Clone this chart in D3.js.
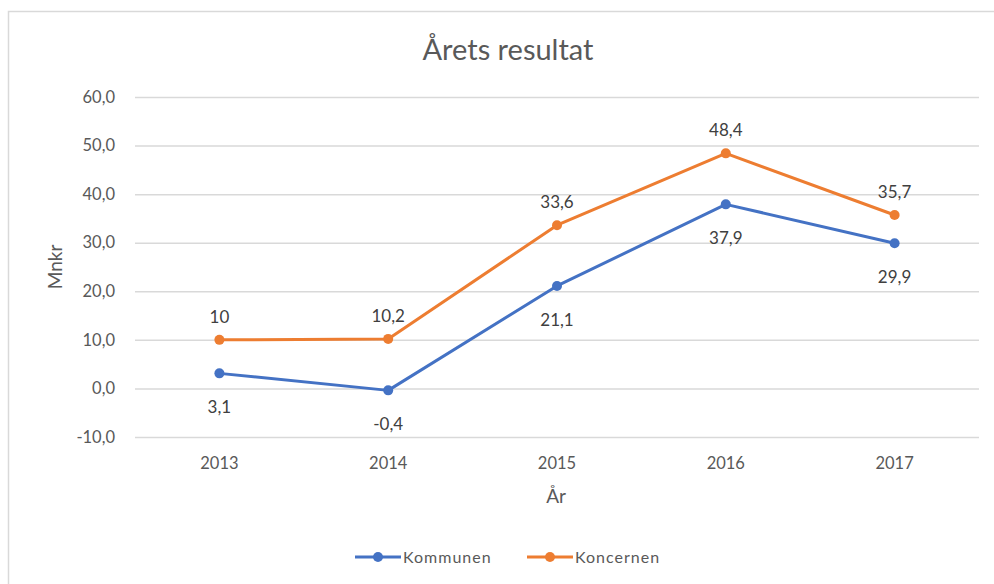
<!DOCTYPE html>
<html>
<head>
<meta charset="utf-8">
<script src="https://cdn.jsdelivr.net/npm/d3@7"></script>
<style>
  html, body { margin: 0; padding: 0; background: #fff; }
  svg { display: block; font-family: Lato, "Open Sans", sans-serif; }
</style>
</head>
<body>
<svg id="chart" width="994" height="584"></svg>
<script>
// Årets resultat, Mnkr per år
const years = ["2013", "2014", "2015", "2016", "2017"];
const kommunen = [3.1, -0.4, 21.1, 37.9, 29.9];
const koncernen = [10, 10.2, 33.6, 48.4, 35.7];
const yTicks = [-10, 0, 10, 20, 30, 40, 50, 60];
const seriesNames = ["Kommunen", "Koncernen"];
const seriesColors = ["#4472C4", "#ED7D31"];

const svg = d3.select("#chart");
const W = 994, H = 584;
const plot = { left: 135, right: 979, top: 97, bottom: 437 };
const grey = "#595959";
const fmt = v => String(v).replace(".", ",");
const fmtTick = v => d3.format(".1f")(v).replace(".", ",").replace("−", "-");

// chart area frame
svg.append("rect")
  .attr("x", 8.5).attr("y", 11.5)
  .attr("width", W).attr("height", H)
  .attr("fill", "#fff").attr("stroke", "#d9d9d9").attr("stroke-width", 1.5);

const x = d3.scaleBand().domain(years).range([plot.left, plot.right]);
const y = d3.scaleLinear().domain([-10, 60]).range([plot.bottom, plot.top]);
const cx = d => x(d) + x.bandwidth() / 2;

// horizontal gridlines + y tick labels
const yAxis = d3.axisLeft(y).tickValues(yTicks).tickFormat(fmtTick)
  .tickSize(-(plot.right - plot.left)).tickPadding(20);
const gy = svg.append("g").attr("transform", `translate(${plot.left},0)`).call(yAxis);
gy.select(".domain").remove();
gy.selectAll(".tick line").attr("stroke", "#d9d9d9").attr("stroke-width", 1.5);
gy.selectAll(".tick text").attr("fill", grey).attr("font-size", 16.5)
  .attr("font-family", "Lato, sans-serif");

// x tick labels
const xAxis = d3.axisBottom(x).tickSize(0).tickPadding(20);
const gx = svg.append("g").attr("transform", `translate(0,${plot.bottom})`).call(xAxis);
gx.select(".domain").remove();
gx.selectAll(".tick text").attr("fill", grey).attr("font-size", 16.5)
  .attr("font-family", "Lato, sans-serif");

// title and axis titles
svg.append("text").attr("x", 508).attr("y", 60).attr("text-anchor", "middle")
  .attr("fill", grey).attr("font-size", 29).attr("font-weight", 400)
  .text("Årets resultat");
svg.append("text").attr("x", 556).attr("y", 503).attr("text-anchor", "middle")
  .attr("fill", grey).attr("font-size", 19).text("År");
svg.append("text").attr("transform", "translate(62,267) rotate(-90)")
  .attr("text-anchor", "middle").attr("fill", grey).attr("font-size", 19).text("Mnkr");

// series
const data = [kommunen, koncernen];
const line = d3.line().x((d, i) => cx(years[i])).y(d => y(d));
data.forEach((vals, s) => {
  const g = svg.append("g");
  g.append("path").datum(vals).attr("d", line).attr("fill", "none")
    .attr("stroke", seriesColors[s]).attr("stroke-width", 3).attr("stroke-linejoin", "round");
  g.selectAll("circle").data(vals).join("circle")
    .attr("cx", (d, i) => cx(years[i])).attr("cy", d => y(d)).attr("r", 5)
    .attr("fill", seriesColors[s]);
  // data labels: Kommunen below, Koncernen above
  g.selectAll("text").data(vals).join("text")
    .attr("x", (d, i) => cx(years[i]))
    .attr("y", d => s === 0 ? y(d) + 40 : y(d) - 17)
    .attr("text-anchor", "middle").attr("fill", "#404040").attr("font-size", 17)
    .text(d => fmt(d));
});

// legend
const legendItems = [{ x: 355, w: 46 }, { x: 527, w: 46 }];
legendItems.forEach((it, s) => {
  const g = svg.append("g").attr("transform", `translate(${it.x},557)`);
  g.append("line").attr("x1", 0).attr("x2", it.w).attr("stroke", seriesColors[s])
    .attr("stroke-width", 3);
  g.append("circle").attr("cx", it.w / 2).attr("r", 5).attr("fill", seriesColors[s]);
  g.append("text").attr("x", it.w + 2).attr("y", 6).attr("fill", grey)
    .attr("font-size", 16).attr("letter-spacing", 1).text(seriesNames[s]);
});
</script>
</body>
</html>
